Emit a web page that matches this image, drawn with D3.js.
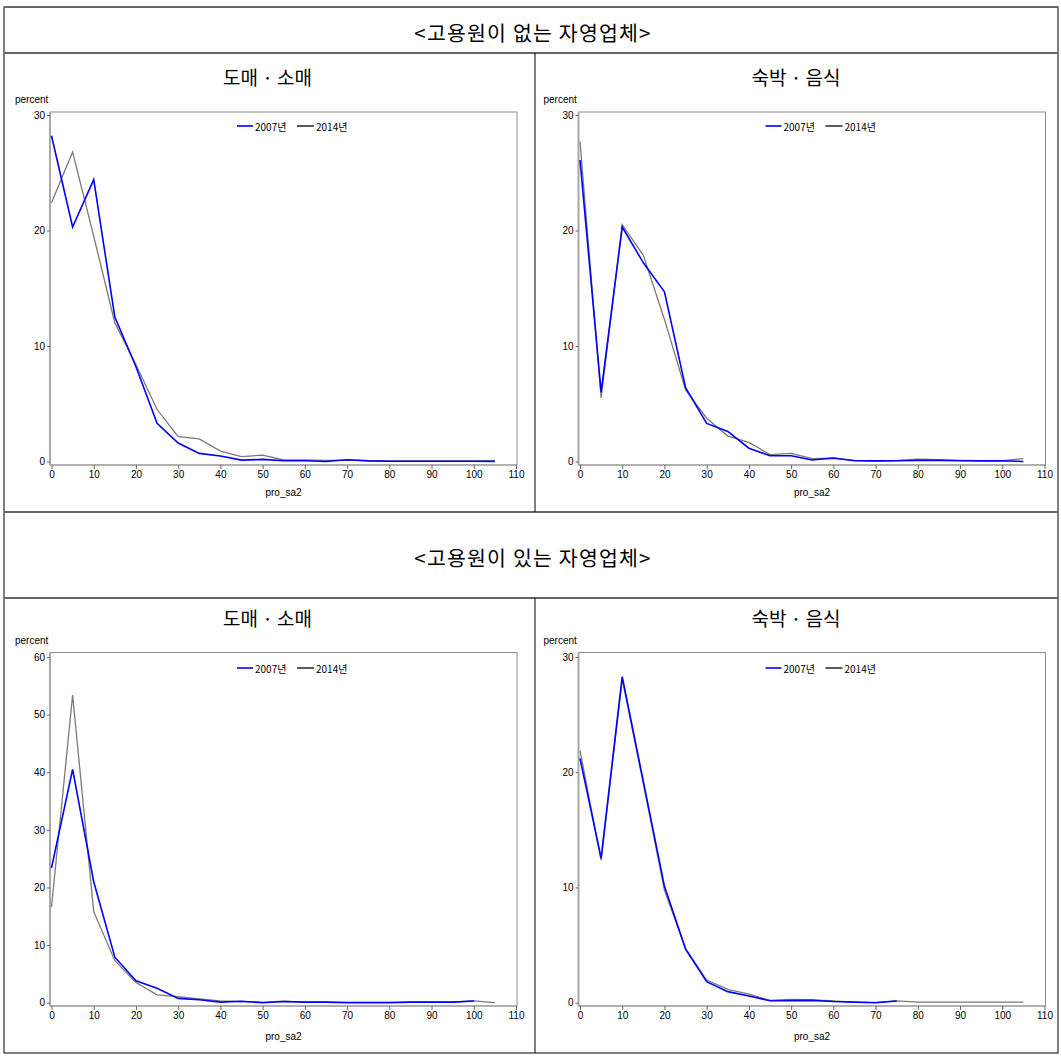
<!DOCTYPE html>
<html><head><meta charset="utf-8">
<script src="https://cdn.jsdelivr.net/npm/d3@7"></script>
<style>body{margin:0;background:#fff}svg{display:block}</style>
</head><body>
<script>
const xValues = [0,5,10,15,20,25,30,35,40,45,50,55,60,65,70,75,80,85,90,95,100,105];
const xTicks = [0,10,20,30,40,50,60,70,80,90,100,110];
const seriesNames = ["2007년","2014년"];
const groupTitles = ["<고용원이 없는 자영업체>","<고용원이 있는 자영업체>"];
const industryTitles = ["도매 · 소매","숙박 · 음식"];
const yTicks30 = [0,10,20,30];
const yTicks60 = [0,10,20,30,40,50,60];

const noEmpRetail2007 = [28.2,20.3,24.4,12.5,8.2,3.3,1.6,0.7,0.48,0.12,0.18,0.07,0.07,0.0,0.15,0.05,0.02,0.02,0.02,0.02,0.02,0.0];
const noEmpRetail2014 = [22.4,26.8,19.5,12.0,8.4,4.5,2.15,1.95,0.9,0.42,0.56,0.13,0.13,0.1,0.12,0.08,0.06,0.06,0.06,0.06,0.06,0.1];
const noEmpFood2007 = [26.1,6.0,20.3,17.2,14.7,6.4,3.3,2.6,1.15,0.5,0.5,0.13,0.3,0.07,0.05,0.07,0.1,0.1,0.07,0.05,0.07,0.0];
const noEmpFood2014 = [27.7,5.5,20.5,17.85,12.3,6.2,3.75,2.2,1.65,0.6,0.7,0.25,0.28,0.1,0.05,0.07,0.2,0.15,0.1,0.07,0.08,0.25];
const empRetail2007 = [23.4,40.5,21.0,7.9,3.8,2.5,0.75,0.5,0.1,0.25,0.0,0.2,0.1,0.1,0.0,0.0,0.0,0.1,0.1,0.1,0.3];
const empRetail2014 = [16.6,53.4,15.8,7.3,3.5,1.35,1.05,0.65,0.3,0.2,0.1,0.25,0.1,0.1,0.1,0.1,0.1,0.1,0.1,0.1,0.3,0.0];
const empFood2007 = [21.2,12.55,28.3,19.2,10.1,4.65,1.83,0.96,0.58,0.17,0.18,0.2,0.1,0.05,0.0,0.15];
const empFood2014 = [21.9,12.35,28.05,19.0,9.75,4.7,1.97,1.15,0.75,0.2,0.28,0.25,0.15,0.05,0.02,0.15,0.05,0.05,0.05,0.05,0.05,0.05];

const W = 1061, H = 1056;
const svg = d3.select("body").append("svg").attr("width", W).attr("height", H);
const KR = "'Noto Sans CJK KR','Noto Sans',sans-serif";
const AR = "'Liberation Sans',Arial,sans-serif";

const tbl = {x0:4, x1:1058, y0:7, y1:1053, mid:535, r1:53, r2:512, r3:598};
svg.append("rect").attr("x",tbl.x0).attr("y",tbl.y0).attr("width",tbl.x1-tbl.x0).attr("height",tbl.y1-tbl.y0)
  .attr("fill","none").attr("stroke","#000").attr("stroke-width",1);
[tbl.y0, tbl.r1, tbl.r2, tbl.r3].forEach(y=>{
  svg.append("line").attr("x1",tbl.x0).attr("x2",tbl.x1).attr("y1",y).attr("y2",y)
    .attr("stroke","#666").attr("stroke-width",2);
});
[[tbl.r1,tbl.r2],[tbl.r3,tbl.y1]].forEach(([a,b])=>{
  svg.append("line").attr("x1",tbl.mid).attr("x2",tbl.mid).attr("y1",a).attr("y2",b)
    .attr("stroke","#000").attr("stroke-width",1);
});
[[groupTitles[0],32],[groupTitles[1],557]].forEach(([t,y])=>{
  svg.append("text").attr("x",533).attr("y",y).attr("text-anchor","middle").attr("dominant-baseline","central")
    .attr("font-family",KR).attr("font-size",20.5).attr("letter-spacing",1.2).attr("fill","#000").text(t);
});

const panels = [
  {title:industryTitles[0], ox:0, top:0, yMax:30, yTicks:yTicks30, s07:noEmpRetail2007, s14:noEmpRetail2014},
  {title:industryTitles[1], ox:528.5, top:0, yMax:30, yTicks:yTicks30, s07:noEmpFood2007, s14:noEmpFood2014},
  {title:industryTitles[0], ox:0, top:1, yMax:60, yTicks:yTicks60, s07:empRetail2007, s14:empRetail2014},
  {title:industryTitles[1], ox:528.5, top:1, yMax:30, yTicks:yTicks30, s07:empFood2007, s14:empFood2014}
];
const rowGeom = [
  {sub:76, pct:99, fTop:112, fBot:465, y0:461.5, yTop:115, tickLab:476.5, xlab:492, leg:126},
  {sub:617, pct:640.5, fTop:652.5, fBot:1006, y0:1002.7, yTop:657, tickLab:1017.5, xlab:1036.5, leg:668}
];

panels.forEach(p=>{
  const g = rowGeom[p.top];
  const ox = p.ox;
  const x = d3.scaleLinear().domain([0,110]).range([51.5+ox, 516+ox]);
  const y = d3.scaleLinear().domain([0,p.yMax]).range([g.y0, g.yTop]);
  const fL = 50+ox, fR = 517+ox;
  const gp = svg.append("g");
  gp.append("text").attr("x",(fL+fR)/2-16).attr("y",g.sub).attr("text-anchor","middle").attr("dominant-baseline","central")
    .attr("font-family",KR).attr("font-size",19).attr("fill","#000").text(p.title);
  gp.append("text").attr("x",15+ox).attr("y",g.pct).attr("dominant-baseline","central")
    .attr("font-family",AR).attr("font-size",10).attr("fill","#000").text("percent");
  gp.append("rect").attr("x",fL).attr("y",g.fTop).attr("width",fR-fL).attr("height",g.fBot-g.fTop)
    .attr("fill","none").attr("stroke","#8c8c8c").attr("stroke-width",1);
  gp.append("line").attr("x1",fL).attr("x2",fL).attr("y1",g.fTop).attr("y2",g.fBot).attr("stroke","#a8a8a8").attr("stroke-width",2);
  gp.append("line").attr("x1",fL).attr("x2",fR).attr("y1",g.fBot).attr("y2",g.fBot).attr("stroke","#a8a8a8").attr("stroke-width",1.5);
  const ya = gp.append("g").attr("transform",`translate(${fL},0)`)
    .call(d3.axisLeft(y).tickValues(p.yTicks).tickSize(3).tickPadding(2).tickFormat(d3.format("d")));
  ya.select(".domain").remove();
  ya.selectAll("line").attr("stroke","#666");
  ya.selectAll("text").attr("font-family",AR).attr("font-size",10).attr("fill","#000");
  const xa = gp.append("g").attr("transform",`translate(0,${g.fBot})`)
    .call(d3.axisBottom(x).tickValues(xTicks).tickSize(4).tickPadding(2).tickFormat(d3.format("d")));
  xa.select(".domain").remove();
  xa.selectAll("line").attr("stroke","#666");
  xa.selectAll("text").attr("font-family",AR).attr("font-size",10).attr("fill","#000").attr("dy","0.71em");
  gp.append("text").attr("x",(fL+fR)/2).attr("y",g.xlab).attr("text-anchor","middle").attr("dominant-baseline","central")
    .attr("font-family",AR).attr("font-size",10).attr("fill","#000").text("pro_sa2");
  const line = d3.line().x((d,i)=>x(xValues[i])).y(d=>y(d));
  gp.append("path").datum(p.s14).attr("d",line).attr("fill","none").attr("stroke","#7a7a7a").attr("stroke-width",1.3);
  gp.append("path").datum(p.s07).attr("d",line).attr("fill","none").attr("stroke","#0000ff").attr("stroke-width",1.6);
  const lg = gp.append("g");
  const legItems = [{c:"#0000ff",x1:237,x2:253,tx:255},{c:"#333",x1:297,x2:314,tx:316}];
  legItems.forEach((it,i)=>{
    lg.append("line").attr("x1",it.x1+ox).attr("x2",it.x2+ox).attr("y1",g.leg).attr("y2",g.leg)
      .attr("stroke",it.c).attr("stroke-width",1.6);
    lg.append("text").attr("x",it.tx+ox).attr("y",g.leg).attr("dominant-baseline","central")
      .attr("font-family",KR).attr("font-size",10).attr("fill","#000").text(seriesNames[i]);
  });
});
</script>
</body></html>
